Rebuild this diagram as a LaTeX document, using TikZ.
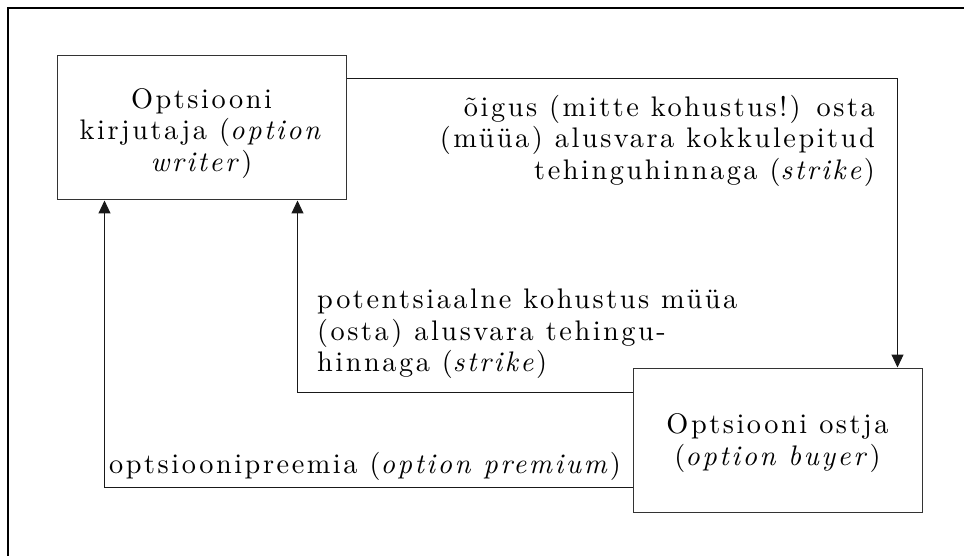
\documentclass[tikz,border=0pt]{standalone}
\usepackage{fontspec}
\setmainfont{lmroman10-regular.otf}[LetterSpace=9, ItalicFont=lmroman10-italic.otf, BoldFont=lmroman10-bold.otf]
\usetikzlibrary{arrows.meta}
\tikzset{
  box/.style={draw=black!80, line width=1pt, minimum width=289pt, minimum height=144pt, inner sep=0pt, align=center, font=\fontsize{28.3}{31.5}\selectfont},
  lbl/.style={inner sep=0pt, font=\fontsize{28.3}{31.5}\selectfont},
  conn/.style={draw=black!90, line width=1pt, -{Triangle[width=12pt,length=13pt]}},
  frame/.style={line width=2pt}
}
\begin{document}
\begin{tikzpicture}[x=1pt,y=-1pt]
\useasboundingbox (0,0) rectangle (964,556);
\draw[frame] (964,8) -- (8,8) -- (8,556);
\node[box] (w) at (201.5,128) {\rule{0pt}{31pt}Optsiooni\\kirjutaja (\textit{option}\\\textit{writer})};
\node[box] (b) at (777.5,440) {\rule{0pt}{26pt}Optsiooni ostja\\(\textit{option buyer})};
\draw[conn] ([yshift=-23pt]w.north east) -| ([xshift=-25pt]b.north east);
\draw[conn] ([yshift=-25pt]b.north west) -| ([xshift=-49pt]w.south east);
\draw[conn] ([yshift=25pt]b.south west) -| ([xshift=48pt]w.south west);
\node[lbl, align=right, anchor=north east] (l1) at (875,95) {õigus (mitte kohustus!) osta\\(müüa) alusvara kokkulepitud\\tehinguhinnaga (\textit{strike})};
\node[lbl, align=left, anchor=north west] (l2) at (317,289) {potentsiaalne kohustus müüa\\(osta) alusvara tehingu-\\hinnaga (\textit{strike})};
\node[lbl, anchor=base west] (l3) at (109,473) {optsioonipreemia (\textit{option premium})};
\end{tikzpicture}
\end{document}
